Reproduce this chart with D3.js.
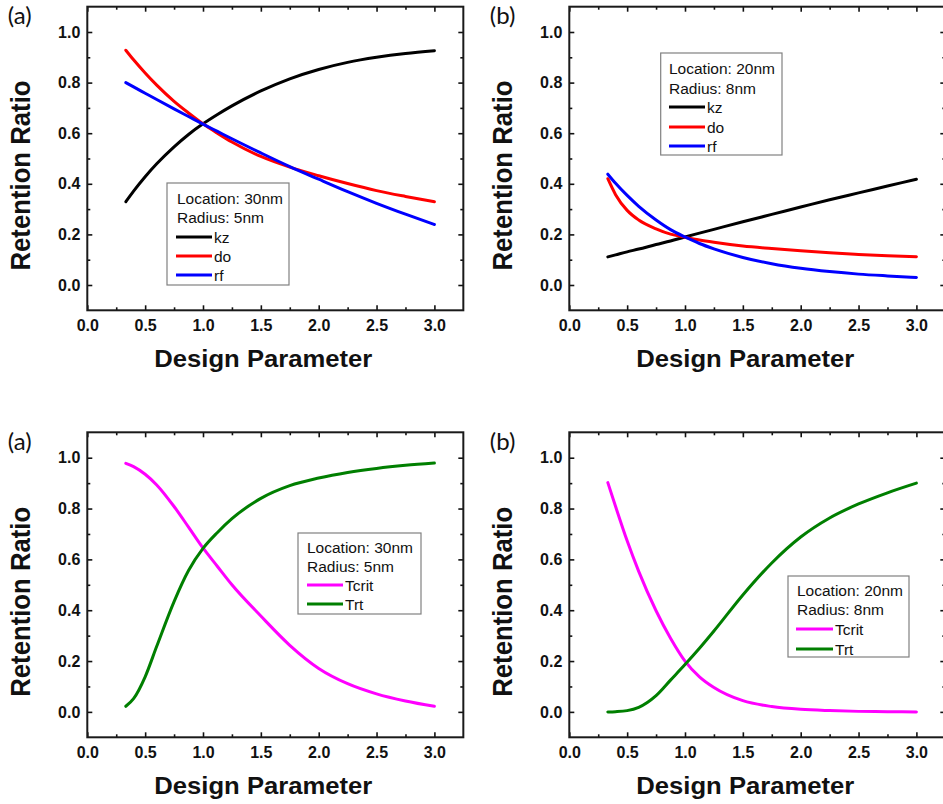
<!DOCTYPE html>
<html><head><meta charset="utf-8">
<script src="https://cdn.jsdelivr.net/npm/d3@7"></script>
<style>body{margin:0;background:#fff}svg{display:block}</style>
</head><body>
<svg id="chart" width="943" height="804"></svg>
<script>
// ---------- data ----------
const designParam = [0.333, 0.4, 0.5, 0.6, 0.75, 0.875, 1.0, 1.125, 1.25, 1.5, 1.75, 2.0, 2.25, 2.5, 2.75, 3.0];

// (a) top: Location 30nm, Radius 5nm
const kzA = [0.329, 0.371, 0.428, 0.479, 0.546, 0.595, 0.637, 0.674, 0.708, 0.767, 0.815, 0.852, 0.88, 0.9, 0.915, 0.926];
const doA = [0.928, 0.89, 0.838, 0.79, 0.726, 0.68, 0.637, 0.6, 0.565, 0.508, 0.466, 0.432, 0.401, 0.373, 0.35, 0.329];
const rfA = [0.8, 0.783, 0.758, 0.733, 0.696, 0.666, 0.636, 0.607, 0.578, 0.522, 0.468, 0.418, 0.369, 0.323, 0.28, 0.239];

// (b) top: Location 20nm, Radius 8nm
const kzB = [0.111, 0.119, 0.131, 0.142, 0.16, 0.174, 0.19, 0.205, 0.22, 0.25, 0.279, 0.308, 0.337, 0.364, 0.391, 0.418];
const doB = [0.42, 0.357, 0.295, 0.257, 0.222, 0.201, 0.189, 0.178, 0.169, 0.154, 0.144, 0.135, 0.127, 0.121, 0.116, 0.112];
const rfB = [0.438, 0.402, 0.354, 0.311, 0.257, 0.219, 0.19, 0.164, 0.143, 0.109, 0.084, 0.066, 0.053, 0.043, 0.036, 0.03];

// (a) bottom: Location 30nm, Radius 5nm
const tcritC = [0.978, 0.965, 0.935, 0.893, 0.808, 0.727, 0.645, 0.572, 0.5, 0.377, 0.262, 0.171, 0.111, 0.071, 0.043, 0.022];
const trtC   = [0.022, 0.052, 0.138, 0.258, 0.434, 0.556, 0.643, 0.706, 0.76, 0.84, 0.89, 0.92, 0.942, 0.958, 0.97, 0.979];

// (b) bottom: Location 20nm, Radius 8nm
const tcritD = [0.902, 0.808, 0.673, 0.553, 0.398, 0.29, 0.2, 0.138, 0.096, 0.044, 0.021, 0.01, 0.005, 0.002, 0.001, 0.0];
const trtD   = [0.0, 0.001, 0.005, 0.018, 0.064, 0.125, 0.186, 0.25, 0.318, 0.46, 0.586, 0.688, 0.763, 0.818, 0.862, 0.9];

const xTicks = [0, 0.5, 1.0, 1.5, 2.0, 2.5, 3.0];
const xMinor = [0.25, 0.75, 1.25, 1.75, 2.25, 2.75];
const yTicks = [0, 0.2, 0.4, 0.6, 0.8, 1.0];
const yMinor = [0.1, 0.3, 0.5, 0.7, 0.9];
const xDomain = [0, 3.25];
const yDomain = [-0.1, 1.1];

const panelLabels = ["(a)", "(b)", "(a)", "(b)"];
const legendHeaders = [["Location: 30nm", "Radius: 5nm"], ["Location: 20nm", "Radius: 8nm"],
                       ["Location: 30nm", "Radius: 5nm"], ["Location: 20nm", "Radius: 8nm"]];
const seriesNamesTop = ["kz", "do", "rf"];
const seriesNamesBottom = ["Tcrit", "Trt"];
const xTitle = "Design Parameter";
const yTitle = "Retention Ratio";

// ---------- layout / style ----------
const colorsTop = ["#000000", "#ff0000", "#0000ff"];
const colorsBottom = ["#ff00ff", "#007f00"];

const panels = [
  {left: 87.3, top: 6.7, bottom: 310.3, series: [kzA, doA, rfA], names: seriesNamesTop, colors: colorsTop,
   legend: {x0: 167, y0: 183, x1: 289, y1: 285, tx: 177, rows: [198, 217, 237, 256, 275], lx0: 176, lx1: 212}},
  {left: 569.3, top: 6.7, bottom: 310.3, series: [kzB, doB, rfB], names: seriesNamesTop, colors: colorsTop,
   legend: {x0: 660.7, y0: 53, x1: 782, y1: 155, tx: 669, rows: [68, 88, 107, 127, 146], lx0: 669, lx1: 705}},
  {left: 87.3, top: 432.3, bottom: 737.3, series: [tcritC, trtC], names: seriesNamesBottom, colors: colorsBottom,
   legend: {x0: 298, y0: 533, x1: 421, y1: 614, tx: 307, rows: [547, 566, 585, 604], lx0: 307, lx1: 343}},
  {left: 569.3, top: 432.3, bottom: 737.3, series: [tcritD, trtD], names: seriesNamesBottom, colors: colorsBottom,
   legend: {x0: 788, y0: 576, x1: 909, y1: 657, tx: 797, rows: [590, 609.7, 629, 649], lx0: 796, lx1: 833}}
];
const pxPerUnitX = 115.7;
const fmt = d3.format(".1f");
const boldFont = "'Liberation Sans', Arial, sans-serif";

const svg = d3.select("#chart");
svg.append("rect").attr("width", 943).attr("height", 804).attr("fill", "#fff");

panels.forEach((p, pi) => {
  const width = pxPerUnitX * (xDomain[1] - xDomain[0]);
  const height = p.bottom - p.top;
  const x = d3.scaleLinear().domain(xDomain).range([0, width]);
  const y = d3.scaleLinear().domain(yDomain).range([height, 0]);
  const g = svg.append("g").attr("transform", `translate(${p.left},${p.top})`);

  // curves
  const line = d3.line().x((d, i) => x(designParam[i])).y(d => y(d)).curve(d3.curveMonotoneX);
  p.series.forEach((s, si) => {
    g.append("path").datum(s).attr("d", line).attr("fill", "none")
      .attr("stroke", p.colors[si]).attr("stroke-width", 3).attr("stroke-linecap", "round");
  });

  // axes (ticks inward on all four sides)
  const styleAxis = sel => {
    sel.select(".domain").remove();
    sel.selectAll(".tick line").attr("stroke", "#111").attr("stroke-width", 1.6);
    sel.selectAll("text").attr("font-family", boldFont).attr("font-weight", "bold")
      .attr("font-size", 16).attr("fill", "#111");
  };
  g.append("g").attr("transform", `translate(0,${height})`)
    .call(d3.axisBottom(x).tickValues(xTicks).tickSize(-5).tickPadding(9.5).tickFormat(fmt)).call(styleAxis);
  g.append("g").attr("transform", `translate(0,${height})`)
    .call(d3.axisBottom(x).tickValues(xMinor).tickSize(-3).tickFormat("")).call(styleAxis);
  g.append("g").call(d3.axisTop(x).tickValues(xTicks).tickSize(-5).tickFormat("")).call(styleAxis);
  g.append("g").call(d3.axisTop(x).tickValues(xMinor).tickSize(-3).tickFormat("")).call(styleAxis);
  g.append("g").call(d3.axisLeft(y).tickValues(yTicks).tickSize(-5).tickPadding(7).tickFormat(fmt)).call(styleAxis);
  g.append("g").call(d3.axisLeft(y).tickValues(yMinor).tickSize(-3).tickFormat("")).call(styleAxis);
  g.append("g").attr("transform", `translate(${width},0)`)
    .call(d3.axisRight(y).tickValues(yTicks).tickSize(-5).tickFormat("")).call(styleAxis);
  g.append("g").attr("transform", `translate(${width},0)`)
    .call(d3.axisRight(y).tickValues(yMinor).tickSize(-3).tickFormat("")).call(styleAxis);

  // frame
  g.append("rect").attr("width", width).attr("height", height).attr("fill", "none")
    .attr("stroke", "#1a1a1a").attr("stroke-width", 2);

  // axis titles
  g.append("text").attr("x", width / 2 - 12).attr("y", height + 56.5).attr("text-anchor", "middle")
    .attr("font-family", boldFont).attr("font-weight", "bold").attr("font-size", 24)
    .attr("textLength", 218).attr("lengthAdjust", "spacingAndGlyphs").attr("fill", "#111").text(xTitle);
  g.append("text").attr("transform", `translate(-57.5,${height / 2 + 17}) rotate(-90)`)
    .attr("text-anchor", "middle").attr("font-family", boldFont).attr("font-weight", "bold")
    .attr("font-size", 28).attr("textLength", 190).attr("lengthAdjust", "spacingAndGlyphs")
    .attr("fill", "#111").text(yTitle);

  // panel label
  svg.append("text").attr("x", p.left - 79.5).attr("y", p.top + 17.5)
    .attr("font-family", "Lato, 'Open Sans', sans-serif").attr("font-size", 24).attr("fill", "#111")
    .text(panelLabels[pi]);

  // legend
  const L = p.legend;
  svg.append("rect").attr("x", L.x0).attr("y", L.y0).attr("width", L.x1 - L.x0).attr("height", L.y1 - L.y0)
    .attr("fill", "#fff").attr("stroke", "#808080").attr("stroke-width", 1.2);
  const legendFont = "'Liberation Sans', Arial, sans-serif";
  legendHeaders[pi].forEach((t, i) => {
    svg.append("text").attr("x", L.tx).attr("y", L.rows[i] + 5.6).attr("font-family", legendFont)
      .attr("font-size", 15.5).attr("fill", "#111").text(t);
  });
  p.names.forEach((n, si) => {
    const cy = L.rows[si + 2];
    svg.append("line").attr("x1", L.lx0).attr("x2", L.lx1).attr("y1", cy).attr("y2", cy)
      .attr("stroke", p.colors[si]).attr("stroke-width", 3);
    svg.append("text").attr("x", L.lx1 + 2).attr("y", cy + 5.6).attr("font-family", legendFont)
      .attr("font-size", 15.5).attr("fill", "#111").text(n);
  });
});
</script>
</body></html>
